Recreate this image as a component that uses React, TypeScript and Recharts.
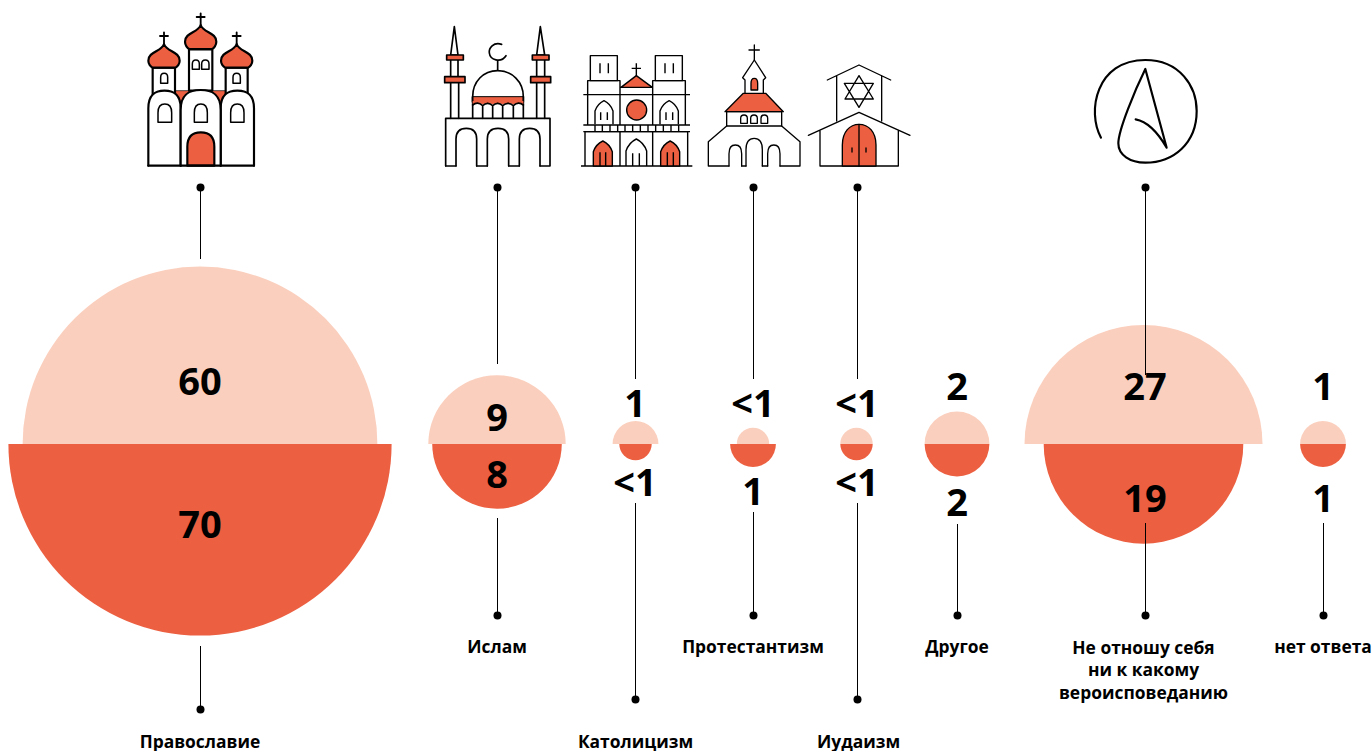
import React from "react";
import { ScatterChart, Scatter, XAxis, YAxis, ZAxis } from "recharts";

const W = 1372, H = 751;
const LIGHT = "#FBCFBD", DARK = "#EC5F40", INK = "#000";
const FONT = "'Open Sans', sans-serif";

// values
const categories = [["Православие"], ["Ислам"], ["Католицизм"], ["Протестантизм"], ["Иудаизм"], ["Другое"], ["Не отношу себя", "ни к какому", "вероисповеданию"], ["нет ответа"]];
const topValues = [60, 9, 1, 0.5, 0.5, 2, 27, 1];
const bottomValues = [70, 8, 0.5, 1, 0.5, 2, 19, 1];
const topTexts = ["60", "9", "1", "<1", "<1", "2", "27", "1"];
const bottomTexts = ["70", "8", "<1", "1", "<1", "2", "19", "1"];

// layout
const circleX = [200, 497, 635.5, 753, 856.5, 957, 1143.5, 1323];
const slotX = [200.5, 497.5, 635.5, 753.5, 857.5, 957.5, 1145.5, 1323.5];
const nameX = [200, 497, 635.5, 753, 858.5, 957, 1143.5, 1323];
const baseY = 444;
const topTextY = [379.5, 415.5, 401.5, 401.5, 401.5, 384.5, 384.5, 384.5];
const bottomTextY = [522.5, 472.5, 480.5, 489.5, 480.5, 500.5, 496.5, 496.5];
const topLineEnd: (number | null)[] = [259, 364, 379, 379, 379, null, 375, null];
const bottomLineStart = [646, 518, 503, 512, 503, 524, 523, 523];
const bottomDotY = [709.5, 615.5, 699.5, 615.5, 699.5, 615.5, 615.5, 615.5];
const nameY = [740.5, 646, 740.5, 646, 740.5, 646, 646.5, 646];
const iconTopY = 187.5;

const KM = 22.9;
const zTop = 70;
const zRange: [number, number] = [0, Math.PI * KM * KM * zTop];

const topRows = categories.map((c, i) => ({ x: circleX[i], y: baseY, z: topValues[i], name: c[0] }));
const bottomRows = categories.map((c, i) => ({ x: circleX[i], y: baseY, z: bottomValues[i], name: c[0] }));
const valueRows = [
  ...topTexts.map((t, i) => ({ x: slotX[i] - 0.5, y: topTextY[i], z: 1, text: t })),
  ...bottomTexts.map((t, i) => ({ x: slotX[i] - 0.5, y: bottomTextY[i], z: 1, text: t })),
];
const nameRows = categories.flatMap((lines, i) =>
  lines.map((t, j) => ({ x: nameX[i], y: nameY[i] + j * 22.5, z: 1, text: t }))
);
const dotRows = [
  ...slotX.map((x, i) => ({ x, y: iconTopY, z: 1, on: topLineEnd[i] != null })).filter((d) => d.on),
  ...slotX.map((x, i) => ({ x, y: bottomDotY[i], z: 1, on: true })),
];
const connectors = [
  ...slotX.map((x, i) => (topLineEnd[i] != null ? [{ x, y: iconTopY, z: 1 }, { x, y: topLineEnd[i] as number, z: 1 }] : null)).filter(Boolean),
  ...slotX.map((x, i) => [{ x, y: bottomLineStart[i], z: 1 }, { x, y: bottomDotY[i], z: 1 }]),
] as any[];

const HalfUp = (p: any) => {
  const r = p.width / 2, cx = p.x + r, cy = p.y + r;
  return <path d={`M${cx - r} ${cy}A${r} ${r} 0 0 1 ${cx + r} ${cy}Z`} fill={LIGHT} />;
};
const HalfDown = (p: any) => {
  const r = p.width / 2, cx = p.x + r, cy = p.y + r;
  return <path d={`M${cx - r} ${cy}A${r} ${r} 0 0 0 ${cx + r} ${cy}Z`} fill={DARK} />;
};
const centre = (p: any) => ({ cx: p.x + p.width / 2, cy: p.y + p.height / 2 });
const ValueText = (p: any) => {
  const { cx, cy } = centre(p);
  return <text x={cx} y={cy} textAnchor="middle" dominantBaseline="central" fontFamily={FONT} fontWeight={700} fontSize={38} fill={INK}>{p.payload.text}</text>;
};
const NameText = (p: any) => {
  const { cx, cy } = centre(p);
  return <text x={cx} y={cy} textAnchor="middle" dominantBaseline="central" fontFamily={FONT} fontWeight={700} fontSize={17.4} fill={INK}>{p.payload.text}</text>;
};
const DotShape = (p: any) => {
  const { cx, cy } = centre(p);
  return <circle cx={cx} cy={cy} r={4} fill={INK} />;
};
const NoShape = () => <g />;

const base = { fill: "none", stroke: INK, strokeLinejoin: "round" as const, strokeLinecap: "round" as const };
const arch = (x1: number, x2: number, top: number, shoulder: number, bottom: number) =>
  `M${x1} ${bottom}V${shoulder}C${x1} ${top + (shoulder - top) * 0.2} ${x1 + (x2 - x1) * 0.22} ${top} ${(x1 + x2) / 2} ${top}C${x2 - (x2 - x1) * 0.22} ${top} ${x2} ${top + (shoulder - top) * 0.2} ${x2} ${shoulder}V${bottom}`;
const pointed = (x1: number, x2: number, top: number, shoulder: number, bottom: number) => {
  const m = (x1 + x2) / 2, w = x2 - x1, h = shoulder - top;
  return `M${x1} ${bottom}V${shoulder}Q${x1 + w * 0.14} ${top + h * 0.3} ${m} ${top}Q${x2 - w * 0.14} ${top + h * 0.3} ${x2} ${shoulder}V${bottom}`;
};
const onion = (c: number, tip: number, hw: number, bw: number, base2: number) =>
  `M${c} ${tip}C${c + 8} ${tip + 24} ${c + hw} ${tip + 22} ${c + hw} ${tip + 50}C${c + hw} ${tip + 60} ${c + bw + 6} ${base2 - 2} ${c + bw} ${base2}H${c - bw}C${c - bw - 6} ${base2 - 2} ${c - hw} ${tip + 60} ${c - hw} ${tip + 50}C${c - hw} ${tip + 22} ${c - 8} ${tip + 24} ${c} ${tip}Z`;

const Orthodox = () => (
  <g {...base} strokeWidth={6.5}>
    <path d="M128 272H300L272 312 242 272 212 272 182 272 152 312Z" fill={DARK} strokeWidth={2} />
    <rect x={68} y={203} width={67} height={80} fill="#fff" />
    <rect x={287} y={203} width={66} height={80} fill="#fff" />
    <rect x={177} y={148} width={70} height={124} fill="#fff" />
    <path d={onion(212, 75, 47, 34, 147)} fill={DARK} />
    <path d={onion(102, 132, 47, 34, 203)} fill={DARK} />
    <path d={onion(320, 132, 47, 34, 203)} fill={DARK} />
    <path d="M212 40V75M200 51H224M102 97V132M90 108H114M320 97V132M308 108H332" strokeWidth={5.5} />
    <path d={arch(92, 113, 220, 232, 250) + "Z"} fill="#fff" strokeWidth={4.5} />
    <path d={arch(309, 331, 220, 232, 250) + "Z"} fill="#fff" strokeWidth={4.5} />
    <path d={arch(187, 208, 180, 192, 208) + "Z"} fill="#fff" strokeWidth={4.5} />
    <path d={arch(215, 237, 180, 192, 208) + "Z"} fill="#fff" strokeWidth={4.5} />
    <path d={arch(55, 152, 272, 325, 497)} fill="#fff" />
    <path d={arch(272, 372, 272, 325, 497)} fill="#fff" />
    <path d={arch(152, 272, 270, 330, 497)} fill="#fff" />
    <path d={arch(84, 125, 312, 338, 367) + "Z"} fill="#fff" strokeWidth={4.5} />
    <path d={arch(193, 232, 312, 338, 367) + "Z"} fill="#fff" strokeWidth={4.5} />
    <path d={arch(302, 342, 312, 338, 367) + "Z"} fill="#fff" strokeWidth={4.5} />
    <path d={arch(172, 253, 397, 440, 497) + "Z"} fill={DARK} />
    <path d="M55 497H372" />
  </g>
);

const Mosque = () => (
  <g {...base} strokeWidth={5}>
    <path d="M73 35L62 120H84ZM331 35L320 120H344Z" fill="#fff" />
    <path d="M62 135V185M84 135V185M62 203V310M86 203V310M320 135V185M344 135V185M320 203V310M344 203V310" />
    <rect x={50} y={120} width={50} height={15} fill={DARK} />
    <rect x={44} y={185} width={61} height={18} fill={DARK} />
    <rect x={307} y={120} width={50} height={15} fill={DARK} />
    <rect x={302} y={185} width={60} height={18} fill={DARK} />
    <path d="M215 88C190 80 176 100 178 114C180 134 212 146 228 122M203 138V167" />
    <path d="M128 245C128 200 160 167 203 167C246 167 280 200 280 245V262H128Z" fill="#fff" />
    <path d="M128 245H280V262H128Z" fill={DARK} strokeWidth={3} />
    <path d="M128 310V245M280 310V245M128 262H280" />
    <path d="M128 268Q143 258 158 268Q173 258 188 268Q203 258 218 268Q234 258 250 268Q265 258 280 268V258H128Z" fill={DARK} stroke="none" />
    <path d="M128 270Q143 258 158 272V310M158 272Q173 258 188 272V310M188 272Q203 258 218 272V310M218 272Q234 258 250 272V310M250 272Q265 258 280 270" fill="none" />
    <path d="M47 453V310H360V453H330" />
    <path d={arch(78, 140, 340, 372, 453)} />
    <path d={arch(172, 236, 340, 372, 453)} />
    <path d={arch(268, 330, 340, 372, 453)} />
    <path d="M47 453H78M140 453H172M236 453H268" />
  </g>
);

const Catholic = () => (
  <g {...base} strokeWidth={4.2} strokeLinecap="butt">
    <rect x={46} y={62} width={81} height={75} />
    <rect x={241} y={62} width={81} height={75} />
    <path d="M75 85V115M100 85V115M270 85V115M295 85V115" />
    <path d="M38 270V137H135V270M233 270V137H331V270M135 157H233" />
    <path d="M138 157L184 122L232 157Z" fill={DARK} />
    <path d="M184 85V122M170 100H198" />
    <path d="M25 179H345M25 270H345M25 290H345" />
    <path d="M60 270V290M82 270V290M105 270V290M128 270V290M150 270V290M173 270V290M196 270V290M219 270V290M242 270V290M265 270V290M288 270V290M311 270V290" />
    <circle cx={185} cy={225} r={30} fill={DARK} />
    <path d={pointed(60, 114, 197, 228, 268)} />
    <path d={pointed(255, 310, 197, 228, 268)} />
    <path d="M77 232V255M97 232V255M273 232V255M293 232V255" />
    <path d="M30 393V290H338V393M135 290V393M233 290V393M18 393H352" />
    <path d={pointed(55, 112, 318, 350, 393) + "Z"} fill={DARK} />
    <path d={pointed(153, 215, 312, 348, 393)} />
    <path d={pointed(257, 314, 318, 350, 393) + "Z"} fill={DARK} />
    <path d="M75 352V393M92 352V393M173 355V393M193 355V393M277 352V393M295 352V393" />
  </g>
);

const Protestant = () => (
  <g {...base} strokeWidth={4}>
    <path d="M163 30V75M147 45H178" />
    <path d="M163 75L128 128L135 135V175M163 75L197 128L190 135V175" />
    <path d={arch(153, 173, 130, 145, 165) + "Z"} fill={DARK} />
    <path d="M130 175H197L250 230H75Z" fill={DARK} />
    <rect x={80} y={230} width={165} height={43} />
    <path d={arch(122, 142, 240, 250, 265) + "Z"} />
    <path d={arch(152, 172, 240, 250, 265) + "Z"} />
    <path d={arch(183, 203, 240, 250, 265) + "Z"} />
    <path d="M80 273L25 320V393H87M245 273L300 320V393H240M125 393H138M187 393H203" />
    <path d={arch(87, 125, 330, 356, 393)} />
    <path d={arch(138, 187, 310, 344, 393)} />
    <path d={arch(203, 240, 330, 356, 393)} />
  </g>
);

const Jewish = () => (
  <g {...base} strokeWidth={4}>
    <path d="M82 75L177 30L272 75M110 62V198M245 62V198" />
    <path d="M177 62L220 132H135ZM177 157L133 85H220Z" />
    <path d="M25 241L177 172L330 241M60 226V333H295V226" />
    <path d="M127 333V270C127 230 150 208 177 208C205 208 228 230 228 270V333Z" fill={DARK} />
    <path d="M177 208V333" />
    <path d="M156 279V291M198 279V291" strokeWidth={4} />
  </g>
);

const Atheist = () => (
  <g {...base} strokeWidth={6.5}>
    <path d="M63 263C20 185 48 30 196 30C300 30 350 110 350 183C350 280 280 338 196 338C150 338 115 315 115 280C115 240 165 120 196 57L260 293C235 250 205 215 167 208" />
  </g>
);

// icon definition: component and the page position of its drawing origin, relative to its slot
const icons: any[] = [
  { C: Orthodox, dx: -70.5, top: 0 },
  { C: Mosque, dx: -67.5, top: 15 },
  { C: Catholic, dx: -60.5, top: 35 },
  { C: Protestant, dx: -53.5, top: 35 },
  { C: Jewish, dx: -57.5, top: 55 },
  null,
  { C: Atheist, dx: -65.5, top: 50 },
  null,
];
const iconRows = categories.map((c, i) => ({ x: slotX[i], y: iconTopY, z: 1, idx: i })).filter((r) => icons[r.idx]);
const IconShape = (p: any) => {
  const { cx } = centre(p);
  const icon = icons[p.payload.idx];
  const C = icon.C;
  return (
    <g transform={`translate(${cx + icon.dx} ${icon.top}) scale(${1 / 3})`}>
      <C />
    </g>
  );
};

export default function App() {
  return (
    <div style={{ position: "absolute", left: 0, top: 0, width: W, height: H, background: "#fff" }}>
      <ScatterChart width={W} height={H} margin={{ top: 0, right: 0, bottom: 0, left: 0 }}>
        <XAxis type="number" dataKey="x" domain={[0, W]} hide />
        <YAxis type="number" dataKey="y" domain={[0, H]} reversed hide />
        <ZAxis type="number" dataKey="z" domain={[0, zTop]} range={zRange} />
        <Scatter data={topRows} shape={HalfUp} isAnimationActive={false} />
        <Scatter data={bottomRows} shape={HalfDown} isAnimationActive={false} />
        {connectors.map((seg, i) => (
          <Scatter key={i} data={seg} line={{ stroke: INK, strokeWidth: 1 }} shape={NoShape} isAnimationActive={false} />
        ))}
        <Scatter data={dotRows} shape={DotShape} isAnimationActive={false} />
        <Scatter data={valueRows} shape={ValueText} isAnimationActive={false} />
        <Scatter data={nameRows} shape={NameText} isAnimationActive={false} />
        <Scatter data={iconRows} shape={IconShape} isAnimationActive={false} />
      </ScatterChart>
    </div>
  );
}
